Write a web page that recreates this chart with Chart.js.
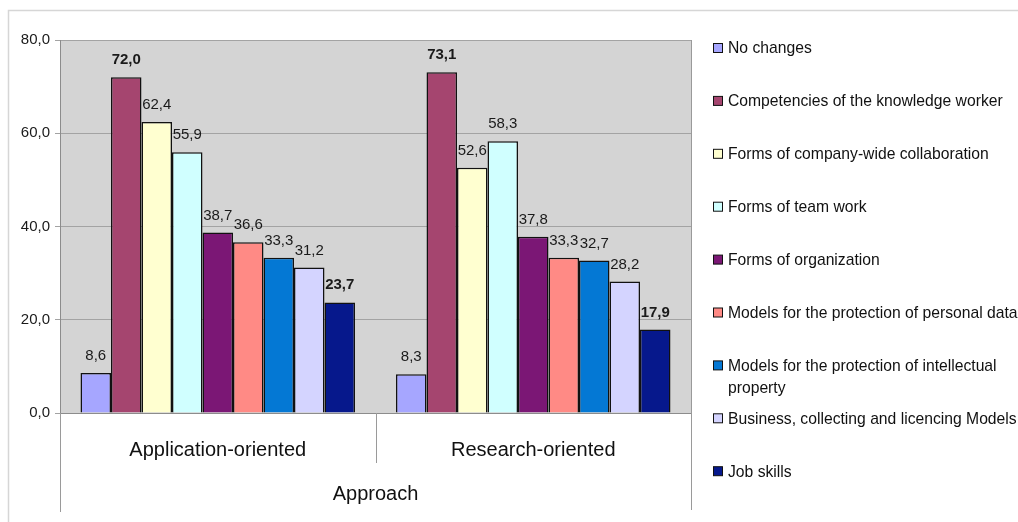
<!DOCTYPE html>
<html>
<head>
<meta charset="utf-8">
<script src="https://cdn.jsdelivr.net/npm/chart.js@4/dist/chart.umd.min.js"></script>
<style>
  body { margin: 0; background: #fff; }
  #marco { position: relative; width: 1018px; height: 522px; }
</style>
</head>
<body>
<div id="marco"><canvas id="grafico"></canvas></div>
<script>
// Categorias del eje x
const categorias = ['Application-oriented', 'Research-oriented'];
const tituloEje = 'Approach';

// Series (en el mismo orden que la leyenda)
const nombresSeries = [
    'No changes',
    'Competencies of the knowledge worker',
    'Forms of company-wide collaboration',
    'Forms of team work',
    'Forms of organization',
    'Models for the protection of personal data',
    'Models for the protection of intellectual property',
    'Business, collecting and licencing Models',
    'Job skills'
];

// Valores de cada serie: [Application-oriented, Research-oriented]
const sinCambios = [8.6, 8.3];
const competencias = [72.0, 73.1];
const colaboracion = [62.4, 52.6];
const trabajoEquipo = [55.9, 58.3];
const organizacion = [38.7, 37.8];
const datosPersonales = [36.6, 33.3];
const propiedadIntelectual = [33.3, 32.7];
const modelosNegocio = [31.2, 28.2];
const habilidades = [23.7, 17.9];

const valoresSeries = [sinCambios, competencias, colaboracion, trabajoEquipo, organizacion,
    datosPersonales, propiedadIntelectual, modelosNegocio, habilidades];

// Ticks del eje y
const ticksY = [0, 20, 40, 60, 80];

// Colores de relleno de las barras
const colores = ['#a6a6ff', '#a5456f', '#ffffd0', '#d0ffff', '#7b1775',
    '#ff8a85', '#0478d4', '#d4d4ff', '#06188c'];

// Series con la etiqueta en negrita
const seriesNegrita = [1, 8];

const fuente = '"Liberation Sans", Arial, sans-serif';

// Formato con coma decimal
function formato(v) {
    return v.toFixed(1).replace('.', ',');
}

// Fondo gris del area del grafico y marco exterior
const fondoPlugin = {
    id: 'fondo',
    beforeDraw(chart) {
        const { ctx, chartArea: a } = chart;
        ctx.save();
        ctx.strokeStyle = '#d6d6d6';
        ctx.lineWidth = 1.5;
        ctx.beginPath();
        ctx.moveTo(8.5, 522);
        ctx.lineTo(8.5, 10.5);
        ctx.lineTo(1018, 10.5);
        ctx.stroke();
        ctx.fillStyle = '#d4d4d4';
        ctx.fillRect(a.left, a.top, a.right - a.left, a.bottom - a.top);
        ctx.restore();
    }
};

// Etiquetas de valor, lineas de categoria y leyenda
const extrasPlugin = {
    id: 'extras',
    afterDatasetsDraw(chart) {
        const ctx = chart.ctx;
        ctx.save();
        ctx.fillStyle = '#1a1a1a';
        ctx.textAlign = 'center';
        ctx.textBaseline = 'alphabetic';
        chart.data.datasets.forEach((ds, i) => {
            const meta = chart.getDatasetMeta(i);
            const negrita = seriesNegrita.includes(i);
            ctx.font = (negrita ? 'bold ' : '') + '15px ' + fuente;
            meta.data.forEach((barra, j) => {
                ctx.fillText(formato(ds.data[j]), barra.x, barra.y - 13);
            });
        });
        ctx.restore();
    },
    afterDraw(chart) {
        const { ctx, chartArea: a } = chart;
        const x = chart.scales.x;
        ctx.save();
        ctx.strokeStyle = '#9a9a9a';
        ctx.lineWidth = 1;
        // bordes laterales que bajan hasta el titulo del eje
        ctx.beginPath();
        ctx.moveTo(Math.round(a.left) + 0.5, a.bottom);
        ctx.lineTo(Math.round(a.left) + 0.5, 512);
        ctx.moveTo(Math.round(a.right) + 0.5, a.top);
        ctx.lineTo(Math.round(a.right) + 0.5, 510);
        // separador entre categorias
        for (let j = 1; j < categorias.length; j++) {
            const xs = Math.round((x.getPixelForTick(j - 1) + x.getPixelForTick(j)) / 2) + 0.5;
            ctx.moveTo(xs, a.bottom);
            ctx.lineTo(xs, a.bottom + 50);
        }
        ctx.stroke();

        // leyenda a la derecha
        const lx = 713, tx = 728, y0 = 48, paso = 52.9, anchoMax = 300;
        ctx.font = '15.7px ' + fuente;
        ctx.textAlign = 'left';
        ctx.textBaseline = 'middle';
        nombresSeries.forEach((nombre, i) => {
            const y = y0 + i * paso;
            ctx.fillStyle = colores[i];
            ctx.fillRect(lx, y - 4.5, 9, 9);
            ctx.strokeStyle = '#111';
            ctx.lineWidth = 1;
            ctx.strokeRect(lx + 0.5, y - 4.5, 9, 9);
            // cortar en lineas si el texto es muy largo
            const palabras = nombre.split(' ');
            const lineas = [];
            let actual = '';
            palabras.forEach(p => {
                const prueba = actual ? actual + ' ' + p : p;
                if (ctx.measureText(prueba).width > anchoMax && actual) {
                    lineas.push(actual);
                    actual = p;
                } else {
                    actual = prueba;
                }
            });
            lineas.push(actual);
            ctx.fillStyle = '#111';
            lineas.forEach((l, k) => ctx.fillText(l, tx, y + 1 + k * 22));
        });
        ctx.restore();
    }
};

function generarGrafico() {
    const ctx = document.getElementById('grafico').getContext('2d');

    const datasets = nombresSeries.map((nombre, i) => ({
        label: nombre,
        data: valoresSeries[i],
        backgroundColor: colores[i],
        borderColor: '#111',
        borderWidth: 1.5,
        categoryPercentage: 0.87,
        barPercentage: 1
    }));

    return new Chart(ctx, {
        type: 'bar',
        data: { labels: categorias, datasets: datasets },
        plugins: [fondoPlugin, extrasPlugin],
        options: {
            responsive: true,
            maintainAspectRatio: false,
            animation: false,
            devicePixelRatio: 1,
            layout: { padding: { left: 0, right: 327, top: 40, bottom: 0 } },
            plugins: {
                legend: { display: false },
                tooltip: { enabled: false }
            },
            scales: {
                x: {
                    grid: { display: false, drawTicks: false },
                    border: { color: '#8c8c8c', width: 1 },
                    ticks: {
                        color: '#111',
                        padding: 25,
                        font: { family: fuente, size: 20 }
                    },
                    title: {
                        display: true,
                        text: tituloEje,
                        color: '#111',
                        font: { family: fuente, size: 20 },
                        padding: { top: 4, bottom: 16 }
                    },
                    afterFit(scale) { scale.height = 109; }
                },
                y: {
                    min: ticksY[0],
                    max: ticksY[ticksY.length - 1],
                    afterBuildTicks(scale) {
                        scale.ticks = ticksY.map(v => ({ value: v }));
                    },
                    grid: { color: '#a3a3a3', tickLength: 5, drawTicks: true },
                    border: { color: '#8c8c8c', width: 1 },
                    ticks: {
                        color: '#1a1a1a',
                        padding: 5,
                        font: { family: fuente, size: 15 },
                        callback: v => formato(v)
                    },
                    afterFit(scale) { scale.width = 60; }
                }
            }
        }
    });
}

const grafico = generarGrafico();
</script>
</body>
</html>
